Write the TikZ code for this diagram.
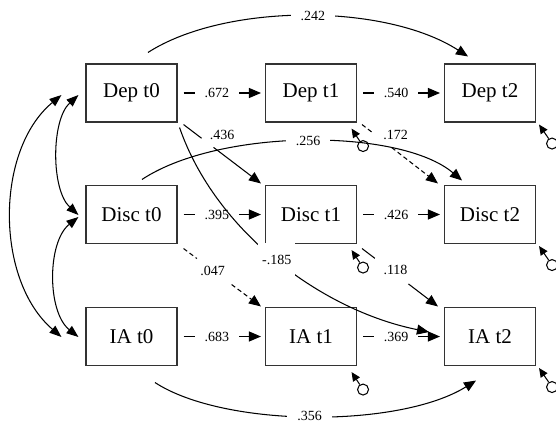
\documentclass[tikz,border=0pt]{standalone}
\usepackage{fontspec}
\setmainfont{Liberation Serif}
\usetikzlibrary{arrows.meta,calc}
\begin{document}
\begin{tikzpicture}[x=1pt,y=-1pt,
  box/.style={draw=black!80, line width=1.1pt, minimum width=91pt, minimum height=58pt, inner sep=0pt, font=\fontsize{21}{24}\selectfont},
  arr/.style={line width=1.05pt, -{Triangle[length=12pt,width=10pt]}},
  dsh/.style={dash pattern=on 4.5pt off 3pt},
  lab/.style={font=\fontsize{14}{16}\selectfont, inner sep=0pt},
  glab/.style={lab, fill=white, inner xsep=10pt, inner ysep=2pt},
  gap/.style={circle, fill=white, inner sep=0pt, minimum size=#1},
  resid/.style={circle, draw, line width=1.05pt, minimum size=11pt, inner sep=0pt},
  rarrow/.style={line width=1.05pt, -{Triangle[length=9pt,width=8pt]}},
  cov/.style={line width=1.05pt, {Triangle[length=12pt,width=9pt]}-{Triangle[length=12pt,width=9pt]}}
]
\useasboundingbox (0,0) rectangle (556,423);

% boxes
\node[box] (dep0) at (131.5,93) {Dep t0};
\node[box] (dep1) at (311,93) {Dep t1};
\node[box] (dep2) at (490,93) {Dep t2};
\node[box] (disc0) at (131.5,214.5) {Disc t0};
\node[box] (disc1) at (311,214.5) {Disc t1};
\node[box] (disc2) at (490,214.5) {Disc t2};
\node[box] (ia0) at (131.5,336.5) {IA t0};
\node[box] (ia1) at (311,336.5) {IA t1};
\node[box] (ia2) at (490,336.5) {IA t2};

% horizontal paths
\draw[arr] ($(dep0.east)+(6,0)$) -- node[glab,pos=.43]{.672} ($(dep1.west)+(-4,0)$);
\draw[arr] ($(dep1.east)+(6,0)$) -- node[glab,pos=.43]{.540} ($(dep2.west)+(-4,0)$);
\draw[arr] ($(disc0.east)+(6,0)$) -- node[glab,pos=.43]{.395} ($(disc1.west)+(-4,0)$);
\draw[arr] ($(disc1.east)+(6,0)$) -- node[glab,pos=.43]{.426} ($(disc2.west)+(-4,0)$);
\draw[arr] ($(ia0.east)+(6,0)$) -- node[glab,pos=.43]{.683} ($(ia1.west)+(-4,0)$);
\draw[arr] ($(ia1.east)+(6,0)$) -- node[glab,pos=.43]{.369} ($(ia2.west)+(-4,0)$);

% diagonal paths
\draw[arr] ($(dep0.south east)+(6,2)$) -- node[gap=15pt,pos=.31]{} ($(disc1.north west)+(-4,-1.5)$);
\node[lab] (l436) at (222,135) {.436};
\draw[arr,dsh] ($(disc0.south east)+(6,4.5)$) -- node[gap=42pt,pos=.39]{} ($(ia1.north west)+(-4,-0.5)$);
\node[lab] (l047) at (212.5,271) {.047};
\draw[arr,dsh] ($(dep1.south east)+(5,2)$) -- node[gap=23pt,pos=.25]{} ($(disc2.north west)+(-6,-1.5)$);
\node[lab] (l172) at (395.5,135) {.172};
\draw[arr] ($(disc1.south east)+(5,4.5)$) -- node[gap=42pt,pos=.39]{} ($(ia2.north west)+(-6,-0.5)$);
\node[lab] (l118) at (395.5,270) {.118};

% curved paths
\draw[arr] ($(dep0.north)+(16.5,-11)$) .. controls (225,3) and (385,3) .. node[glab,pos=.52]{.242} ($(dep2.north)+(-22,-7)$);
\draw[arr] ($(disc0.north)+(10.5,-5.5)$) .. controls (220,128) and (400,128) .. node[glab,pos=.5]{.256} ($(disc2.north)+(-28,-4.5)$);
\draw[arr] ($(ia0.south)+(23.5,16.5)$) .. controls (225,428) and (400,428) .. node[glab,pos=.49]{.356} ($(ia2.south)+(-14,14.5)$);
\draw[arr] ($(dep0.south east)+(2,5)$) .. controls (215,230) and (320,310) .. node[lab,fill=white,inner xsep=4pt,inner ysep=12pt,pos=.5]{-.185} ($(ia2.west)+(-15,-4.5)$);

% covariances
\draw[cov] ($(dep0.west)+(-7,2)$) .. controls (51,120) and (51,190) .. ($(disc0.west)+(-7,0.5)$);
\draw[cov] ($(disc0.west)+(-7,2.5)$) .. controls (47,242) and (47,312) .. ($(ia0.west)+(-7,0.5)$);
\draw[cov] ($(dep0.west)+(-24,2)$) .. controls (-5,150) and (-5,280) .. ($(ia0.west)+(-24,0.5)$);

% residuals
\node[resid] (e1) at ($(dep1.south east)+(6,23.5)$) {};
\draw[rarrow] (e1) -- ($(dep1.south east)+(-5.5,6)$);
\node[resid] (e2) at ($(disc1.south east)+(6,23.5)$) {};
\draw[rarrow] (e2) -- ($(disc1.south east)+(-5.5,6)$);
\node[resid] (e3) at ($(ia1.south east)+(6,23.5)$) {};
\draw[rarrow] (e3) -- ($(ia1.south east)+(-5.5,6)$);
\node[resid] (e4) at ($(dep2.south east)+(16,21)$) {};
\draw[rarrow] (e4) -- ($(dep2.south east)+(3,2)$);
\node[resid] (e5) at ($(disc2.south east)+(16,21)$) {};
\draw[rarrow] (e5) -- ($(disc2.south east)+(3,2)$);
\node[resid] (e6) at ($(ia2.south east)+(16,21)$) {};
\draw[rarrow] (e6) -- ($(ia2.south east)+(3,2)$);
\end{tikzpicture}
\end{document}
